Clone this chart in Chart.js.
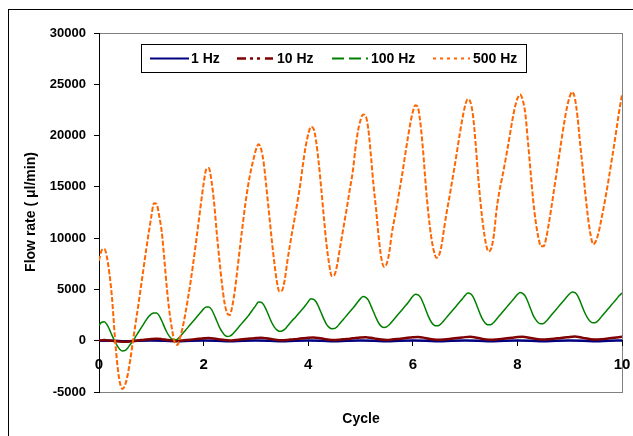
<!DOCTYPE html>
<html>
<head>
<meta charset="utf-8">
<script src="https://cdn.jsdelivr.net/npm/chart.js@4.4.1/dist/chart.umd.min.js"></script>
<style>
  html, body { margin: 0; padding: 0; background: #fff; }
  #wrap { width: 633px; height: 436px; }
</style>
</head>
<body>
<div id="wrap"><canvas id="flowChart" width="633" height="436"></canvas></div>
<script>
// Flow rate vs cycle, four drive frequencies

const seriesNames = ['1 Hz', '10 Hz', '100 Hz', '500 Hz'];
const xTicks = [0, 2, 4, 6, 8, 10];
const yTicks = [-5000, 0, 5000, 10000, 15000, 20000, 25000, 30000];

// sampling positions (cycle) of each trace
const step1 = 0.25, step10 = 0.1, step100 = 0.05, step500 = 0.05;

// 1 Hz - practically flat
const flow1 = [0, 0, -50, 0,
    20, 0, -60, 0, 20, 0, -60, 0, 20, 0, -60, 0, 20, 0, -60, 0,
    20, 0, -60, 0, 20, 0, -60, 0, 20, 0, -60, 0, 20, 0, -60, 0,
    20, 0, -60, 0, 20];

// 10 Hz
const flow10 = [
    0, 60, 20, -40, -80, -100, -60, 0, 60, 120,
    170, 190, 150, 80, 20, 0, 30, 80, 130, 180,
    230, 260, 210, 130, 60, 30, 60, 110, 160, 210,
    260, 290, 240, 160, 80, 50, 80, 130, 180, 240,
    290, 310, 260, 180, 100, 70, 100, 150, 200, 260,
    310, 340, 280, 190, 110, 80, 110, 160, 220, 280,
    330, 360, 300, 200, 120, 90, 120, 170, 230, 290,
    350, 380, 310, 210, 130, 100, 130, 180, 240, 300,
    360, 390, 320, 220, 140, 110, 140, 190, 250, 310,
    370, 400, 330, 230, 150, 110, 140, 200, 260, 320,
    380];

// 100 Hz
const flow100 = [
    1500, 1800, 1850, 1600, 1100, 500, 0, -500, -850, -1000,
    -950, -700, -350, -50, 400, 800, 1200, 1600, 2000, 2350,
    2600, 2700, 2700, 2450, 1950, 1350, 800, 400, 150, 100,
    160, 400, 700, 1000, 1300, 1600, 1900, 2200, 2500, 2800,
    3100, 3280, 3280, 3050, 2550, 1950, 1350, 900, 550, 420,
    450, 620, 900, 1200, 1500, 1800, 2100, 2400, 2750, 3100,
    3450, 3780, 3750, 3500, 3000, 2400, 1800, 1350, 1050, 920,
    950, 1100, 1400, 1700, 2000, 2250, 2550, 2850, 3150, 3450,
    3800, 4080, 4050, 3800, 3300, 2700, 2100, 1600, 1300, 1170,
    1180, 1350, 1650, 1950, 2250, 2550, 2850, 3150, 3450, 3800,
    4100, 4300, 4220, 3950, 3400, 2800, 2200, 1700, 1400, 1300,
    1350, 1550, 1850, 2150, 2450, 2750, 3050, 3350, 3650, 4000,
    4330, 4540, 4480, 4200, 3650, 3000, 2350, 1850, 1550, 1450,
    1480, 1700, 2000, 2300, 2600, 2900, 3200, 3500, 3800, 4100,
    4420, 4640, 4580, 4300, 3750, 3100, 2450, 1950, 1650, 1550,
    1580, 1800, 2100, 2400, 2700, 3000, 3300, 3600, 3900, 4200,
    4500, 4700, 4620, 4350, 3800, 3150, 2500, 2050, 1750, 1650,
    1680, 1900, 2200, 2500, 2800, 3100, 3400, 3700, 4000, 4300,
    4580, 4750, 4680, 4400, 3850, 3200, 2600, 2150, 1850, 1750,
    1780, 2000, 2300, 2600, 2900, 3200, 3500, 3800, 4100, 4400,
    4650];

// 500 Hz
const flow500 = [
    7800, 8800, 8950, 8200, 6500, 4100, 600, -2300, -4100, -4700,
    -4300, -3300, -1800, 0, 1700, 3400, 5200, 7000, 8800, 10500,
    12100, 13400, 13350, 12200, 10600, 7900, 5000, 2700, 1000, -200,
    -400, 300, 1300, 2600, 4100, 5700, 7500, 9400, 11400, 13400,
    15300, 16700, 16850, 15600, 13500, 10600, 8000, 5600, 3700, 2700,
    2500, 3400, 5000, 7100, 9300, 11400, 13400, 15100, 16500, 17600,
    18600, 19150, 18700, 17300, 15000, 12500, 10000, 7700, 5800, 4800,
    4900, 5900, 7700, 9300, 10800, 12200, 13700, 15300, 17200, 18900,
    20100, 20850, 20700, 19500, 17400, 14800, 12000, 9400, 7500, 6300,
    6400, 7300, 8800, 10300, 11800, 13300, 14900, 16400, 18600, 20400,
    21500, 22050, 21900, 20600, 18000, 15100, 12700, 10000, 8000, 7200,
    7500, 8600, 10500, 11900, 13300, 14800, 16300, 18000, 19600, 21100,
    22300, 22950, 22700, 21000, 18300, 15000, 12300, 10200, 8800, 8100,
    8300, 9300, 11000, 12600, 14000, 15500, 17000, 18600, 20200, 21700,
    22900, 23550, 23300, 22000, 19300, 16000, 13200, 11000, 9400, 8700,
    9000, 10300, 12700, 14400, 15700, 17000, 18400, 19900, 21400, 22700,
    23600, 24000, 23500, 22200, 19500, 16600, 13800, 11600, 10100, 9200,
    9200, 10000, 11400, 13000, 14700, 16400, 18100, 19800, 21400, 22800,
    23800, 24250, 23600, 21800, 19200, 16800, 14300, 12000, 10300, 9400,
    9700, 10500, 11700, 13000, 14400, 15900, 17500, 19100, 20800, 22500,
    24000];

const colors = ['#000080', '#800000', '#008000', '#ff6600'];
const FONT = "'Liberation Sans', Arial, sans-serif";

function toPoints(values, step) {
    return values.map((v, i) => ({ x: +(i * step).toFixed(2), y: v }));
}

// frame, plot border, legend and axis titles
const decorations = {
    id: 'decorations',
    beforeDraw(chart) {
        const ctx = chart.ctx;
        const a = chart.chartArea;
        ctx.save();
        ctx.fillStyle = '#fff';
        ctx.fillRect(0, 0, chart.width, chart.height);
        ctx.strokeStyle = '#000';
        ctx.lineWidth = 1;
        ctx.strokeRect(8.5, 9.5, 700, 600);
        ctx.strokeStyle = '#808080';
        ctx.strokeRect(a.left + 0.5, a.top + 0.5, a.right - a.left, a.bottom - a.top);
        ctx.restore();
    },
    afterDraw(chart) {
        const ctx = chart.ctx;
        ctx.save();
        // legend
        ctx.fillStyle = '#fff';
        ctx.fillRect(141, 44, 385, 28);
        ctx.strokeStyle = '#000';
        ctx.lineWidth = 1;
        ctx.strokeRect(141.5, 44.5, 385, 28);
        const items = [
            { x0: 150, x1: 189, tx: 191, dash: [], w: 2 },
            { x0: 237, x1: 273, tx: 277, dash: [9, 4, 3, 4, 3, 5], w: 2.5 },
            { x0: 332, x1: 368, tx: 371, dash: [12, 5], w: 2 },
            { x0: 433, x1: 470, tx: 473, dash: [3, 4], w: 2 }
        ];
        items.forEach((it, i) => {
            ctx.beginPath();
            ctx.setLineDash(it.dash);
            ctx.strokeStyle = colors[i];
            ctx.lineWidth = it.w;
            ctx.moveTo(it.x0, 58.5);
            ctx.lineTo(it.x1, 58.5);
            ctx.stroke();
        });
        ctx.setLineDash([]);
        ctx.fillStyle = '#000';
        ctx.font = 'bold 14px ' + FONT;
        ctx.textBaseline = 'middle';
        ctx.textAlign = 'left';
        items.forEach((it, i) => ctx.fillText(seriesNames[i], it.tx, 59));

        // axis titles
        ctx.textAlign = 'center';
        ctx.fillText('Cycle', 361, 419);
        ctx.translate(31, 212);
        ctx.rotate(-Math.PI / 2);
        ctx.fillText('Flow rate ( \u03bcl/min)', 0, 0);
        ctx.restore();
    }
};

const traces = [
    { data: toPoints(flow1, step1), width: 2.5, dash: [], order: 4 },
    { data: toPoints(flow10, step10), width: 2.5, dash: [], order: 3 },
    { data: toPoints(flow100, step100), width: 1.5, dash: [], order: 2 },
    { data: toPoints(flow500, step500), width: 2, dash: [5, 2], order: 1 }
];

new Chart(document.getElementById('flowChart'), {
    type: 'line',
    data: {
        datasets: traces.map((t, i) => ({
            label: seriesNames[i],
            data: t.data,
            borderColor: colors[i],
            backgroundColor: colors[i],
            borderWidth: t.width,
            borderDash: t.dash,
            pointRadius: 0,
            fill: false,
            cubicInterpolationMode: 'monotone',
            order: t.order
        }))
    },
    options: {
        responsive: false,
        animation: false,
        layout: { padding: { left: 0, top: 33, right: 11, bottom: 44 } },
        plugins: {
            legend: { display: false },
            tooltip: { enabled: false }
        },
        scales: {
            x: {
                type: 'linear',
                min: 0,
                max: 10,
                position: { y: 0 },
                afterFit: function(scale) {
                    scale.height = 0;
                    scale.paddingLeft = 0;
                    scale.paddingRight = 0;
                },
                afterBuildTicks: function(scale) { scale.ticks = xTicks.map(v => ({ value: v })); },
                grid: { drawOnChartArea: false, drawTicks: true, tickLength: 5, color: '#000' },
                border: { display: true, color: '#000', width: 1 },
                ticks: {
                    color: '#000',
                    font: { family: FONT, size: 15, weight: 'bold' },
                    padding: 10,
                    maxRotation: 0,
                    callback: v => String(v)
                }
            },
            y: {
                min: -5000,
                max: 30000,
                afterFit: function(scale) {
                    scale.width = 99;
                    scale.paddingTop = 0;
                    scale.paddingBottom = 0;
                },
                afterBuildTicks: function(scale) { scale.ticks = yTicks.map(v => ({ value: v })); },
                grid: { drawOnChartArea: false, drawTicks: true, tickLength: 5, color: '#000' },
                border: { display: true, color: '#000', width: 1 },
                ticks: {
                    color: '#000',
                    font: { family: FONT, size: 13, weight: 'bold' },
                    padding: 8,
                    callback: v => String(v)
                }
            }
        }
    },
    plugins: [decorations]
});
</script>
</body>
</html>
